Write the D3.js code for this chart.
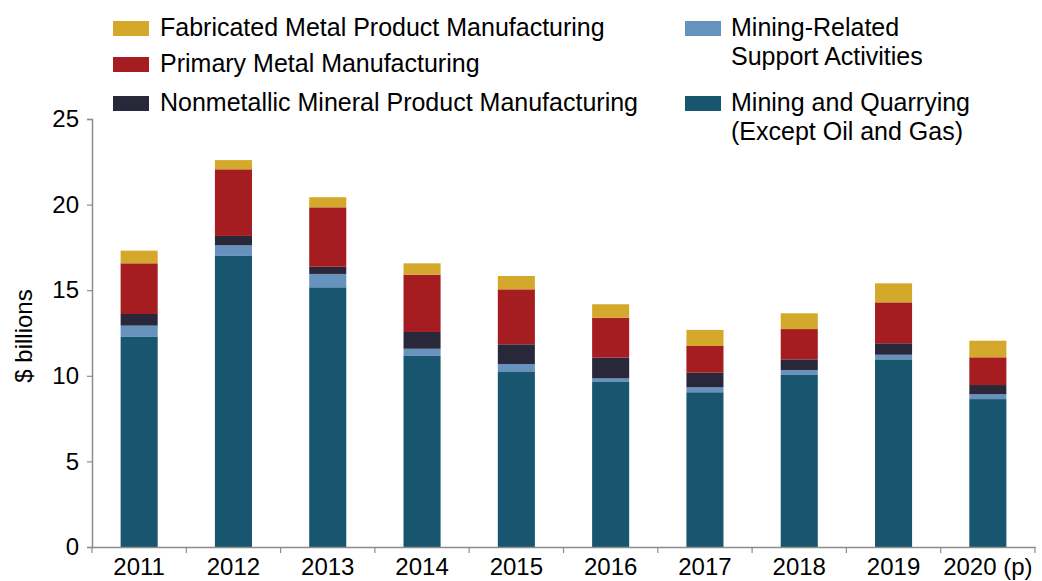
<!DOCTYPE html>
<html>
<head>
<meta charset="utf-8">
<script src="https://cdn.jsdelivr.net/npm/d3@7"></script>
<style>
  html, body { margin: 0; padding: 0; background: #fff; }
  svg { display: block; font-family: "Liberation Sans", Arial, sans-serif; }
</style>
</head>
<body>
<svg id="chart" width="1042" height="581"></svg>
<script>
// Years on the category axis
const years = ["2011", "2012", "2013", "2014", "2015", "2016", "2017", "2018", "2019", "2020 (p)"];

// Series values, $ billions (stacked bottom to top)
const miningQuarrying = [12.27, 17.00, 15.17, 11.16, 10.26, 9.64, 9.04, 10.05, 10.96, 8.64];
const miningSupport   = [0.66, 0.62, 0.78, 0.42, 0.43, 0.21, 0.29, 0.29, 0.27, 0.28];
const nonmetallic     = [0.68, 0.55, 0.42, 0.98, 1.15, 1.21, 0.85, 0.62, 0.67, 0.54];
const primaryMetal    = [2.96, 3.89, 3.47, 3.35, 3.21, 2.33, 1.56, 1.77, 2.39, 1.62];
const fabricatedMetal = [0.74, 0.54, 0.59, 0.66, 0.78, 0.79, 0.94, 0.92, 1.11, 0.97];

// Value axis ticks
const yTicks = [0, 5, 10, 15, 20, 25];

// Series keys, legend labels and fill colours
const seriesKeys = ["mining", "support", "nonmetallic", "primary", "fabricated"];
const seriesLabels = {
  fabricated: ["Fabricated Metal Product Manufacturing"],
  primary: ["Primary Metal Manufacturing"],
  nonmetallic: ["Nonmetallic Mineral Product Manufacturing"],
  support: ["Mining-Related", "Support Activities"],
  mining: ["Mining and Quarrying", "(Except Oil and Gas)"]
};
const seriesColors = {
  mining: "#17566e",
  support: "#6792bd",
  nonmetallic: "#28283a",
  primary: "#a51c21",
  fabricated: "#d4a82b"
};

// Table the stack layout works from
const rows = years.map((yr, i) => ({
  year: yr,
  mining: miningQuarrying[i],
  support: miningSupport[i],
  nonmetallic: nonmetallic[i],
  primary: primaryMetal[i],
  fabricated: fabricatedMetal[i]
}));

const svg = d3.select("#chart");
const plotLeft = 92, plotRight = 1035, plotTop = 119, plotBottom = 547;
const axisColor = "#8c8c8c";

const x = d3.scaleBand().domain(years).range([plotLeft, plotRight])
  .paddingInner(0.607).paddingOuter(0.3035);
const y = d3.scaleLinear().domain([0, 25]).range([plotBottom, plotTop]);

const stacked = d3.stack().keys(seriesKeys)(rows);

// Bars
svg.append("g").selectAll("g")
  .data(stacked)
  .join("g")
  .attr("fill", d => seriesColors[d.key])
  .selectAll("rect")
  .data(d => d)
  .join("rect")
  .attr("x", d => x(d.data.year))
  .attr("width", x.bandwidth())
  .attr("y", d => y(d[1]))
  .attr("height", d => y(d[0]) - y(d[1]));

// Y axis
const yAxis = svg.append("g")
  .attr("transform", `translate(${plotLeft},0)`)
  .call(d3.axisLeft(y).tickValues(yTicks).tickSize(5).tickPadding(8).tickFormat(d3.format("d")));
yAxis.select(".domain").attr("stroke", axisColor).attr("stroke-width", 1.5);
yAxis.selectAll(".tick line").attr("stroke", axisColor).attr("stroke-width", 1.2);
yAxis.selectAll(".tick text")
  .attr("fill", "#000")
  .style("font-size", "24px")
  .style("font-family", "'Liberation Sans', Arial, sans-serif");

// X axis: labels centred on bars, tick marks between categories
const xAxis = svg.append("g")
  .attr("transform", `translate(0,${plotBottom})`)
  .call(d3.axisBottom(x).tickSize(0).tickPadding(11));
xAxis.select(".domain").attr("stroke", axisColor).attr("stroke-width", 1.5);
xAxis.selectAll(".tick text")
  .attr("fill", "#000")
  .style("font-size", "24px")
  .style("font-family", "'Liberation Sans', Arial, sans-serif");

const step = x.step();
const boundaries = years.map(d => x(d) - (step - x.bandwidth()) / 2).concat([plotRight]);
xAxis.selectAll("line.sep")
  .data(boundaries)
  .join("line")
  .attr("class", "sep")
  .attr("x1", d => d).attr("x2", d => d)
  .attr("y1", 0).attr("y2", 6)
  .attr("stroke", axisColor).attr("stroke-width", 1.2);

// Y axis title
svg.append("text")
  .attr("transform", "translate(32,336) rotate(-90)")
  .attr("text-anchor", "middle")
  .style("font-size", "24px")
  .attr("fill", "#000")
  .text("$ billions");

// Legend: two columns
const legendLayout = [
  { key: "fabricated", sx: 113, tx: 160, ly: 36 },
  { key: "primary", sx: 113, tx: 160, ly: 72 },
  { key: "nonmetallic", sx: 113, tx: 160, ly: 111 },
  { key: "support", sx: 685, tx: 731, ly: 36 },
  { key: "mining", sx: 685, tx: 731, ly: 111 }
];
const legend = svg.append("g");
legendLayout.forEach(item => {
  legend.append("rect")
    .attr("x", item.sx).attr("y", item.ly - 15)
    .attr("width", 36).attr("height", 15)
    .attr("fill", seriesColors[item.key]);
  const t = legend.append("text")
    .attr("x", item.tx).attr("y", item.ly)
    .style("font-size", "25px")
    .attr("fill", "#000");
  seriesLabels[item.key].forEach((line, i) => {
    t.append("tspan").attr("x", item.tx).attr("dy", i === 0 ? 0 : 29).text(line);
  });
});
</script>
</body>
</html>
